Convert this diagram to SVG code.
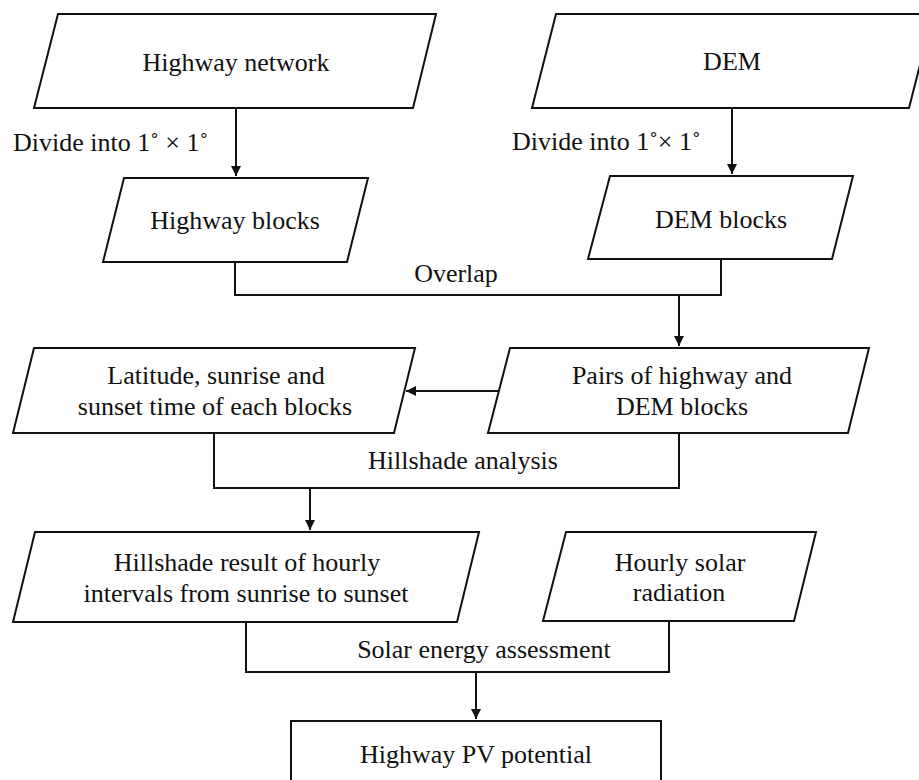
<svg xmlns="http://www.w3.org/2000/svg" width="919" height="780" viewBox="0 0 919 780">
<style>
.box{fill:#fff;stroke:#111;stroke-width:2;stroke-linejoin:miter}
.ln{fill:none;stroke:#111;stroke-width:2}
.t{font-family:"Liberation Serif","Times New Roman",serif;font-size:26px;fill:#111;text-anchor:middle}
.ts{font-family:"Liberation Serif","Times New Roman",serif;font-size:26px;fill:#111}
</style>
<defs>
<marker id="ah" viewBox="0 0 10 10" refX="10" refY="5" markerWidth="10" markerHeight="11" markerUnits="userSpaceOnUse" orient="auto">
<path d="M0,0 L10,5 L0,10 z" fill="#111"/>
</marker>
</defs>
<rect width="919" height="780" fill="#fff"/>
<g id="connectors">
<path class="ln" d="M236,108 V176" marker-end="url(#ah)"/>
<path class="ln" d="M732,108 V174" marker-end="url(#ah)"/>
<path class="ln" d="M235,262 V295 H721 V259"/>
<path class="ln" d="M679,295 V346" marker-end="url(#ah)"/>
<path class="ln" d="M499,391 H406" marker-end="url(#ah)"/>
<path class="ln" d="M214,433 V488 H679 V433"/>
<path class="ln" d="M310,488 V530" marker-end="url(#ah)"/>
<path class="ln" d="M246,622 V672 H669 V621"/>
<path class="ln" d="M476,672 V719" marker-end="url(#ah)"/>
<text class="ts" x="13" y="151">Divide into 1˚ × 1˚</text>
<text class="ts" x="512" y="150">Divide into 1˚× 1˚</text>
<text class="t" x="456" y="282">Overlap</text>
<text class="t" x="463" y="469">Hillshade analysis</text>
<text class="t" x="484" y="658">Solar energy assessment</text>
</g>
<g id="highway-network">
<polygon class="box" points="58,14 436,14 413,108 34,108"/>
<text class="t" x="236" y="71">Highway network</text>
</g>
<g id="dem">
<polygon class="box" points="556,14 933,14 909,108 532,108"/>
<text class="t" x="732" y="70">DEM</text>
</g>
<g id="highway-blocks">
<polygon class="box" points="124,178 368,178 347,262 103,262"/>
<text class="t" x="235" y="229">Highway blocks</text>
</g>
<g id="dem-blocks">
<polygon class="box" points="610,176 853,176 832,259 588,259"/>
<text class="t" x="721" y="228">DEM blocks</text>
</g>
<g id="pairs">
<polygon class="box" points="510,348 869,348 848,433 488,433"/>
<text class="t" x="682" y="384">Pairs of highway and</text>
<text class="t" x="682" y="415">DEM blocks</text>
</g>
<g id="latitude">
<polygon class="box" points="34,348 415,348 394,433 13,433"/>
<text class="t" x="216" y="384">Latitude, sunrise and</text>
<text class="t" x="215" y="415">sunset time of each blocks</text>
</g>
<g id="hillshade-result">
<polygon class="box" points="35,532 479,532 457,622 13,622"/>
<text class="t" x="247" y="571">Hillshade result of hourly</text>
<text class="t" x="246" y="602">intervals from sunrise to sunset</text>
</g>
<g id="hourly-solar">
<polygon class="box" points="566,532 816,532 794,621 543,621"/>
<text class="t" x="680" y="571">Hourly solar</text>
<text class="t" x="679" y="601">radiation</text>
</g>
<g id="pv-potential">
<rect class="box" x="291" y="721" width="370" height="80"/>
<text class="t" x="476" y="763">Highway PV potential</text>
</g>
</svg>
